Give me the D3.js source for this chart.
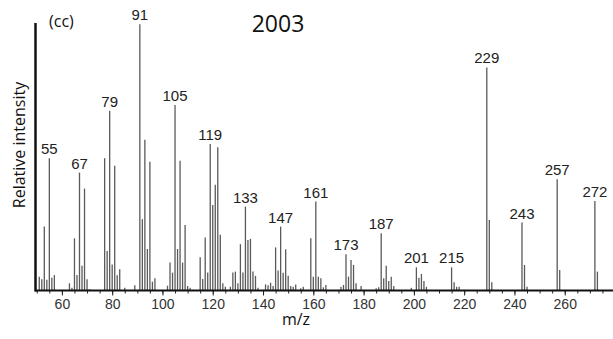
<!DOCTYPE html>
<html>
<head>
<meta charset="utf-8">
<script src="https://cdn.jsdelivr.net/npm/d3@7"></script>
<style>
  html, body { margin: 0; padding: 0; background: #fff; }
  svg { display: block; }
</style>
</head>
<body>
<svg id="chart" width="613" height="339"></svg>
<script>
// m/z of every peak and its intensity, relative to the base peak (91 = 100)
const mzValues = [
  51, 52, 53, 54, 55, 56, 57,
  63, 64, 65, 66, 67, 68, 69, 70, 71,
  77, 78, 79, 80, 81, 82, 83, 85, 89,
  91, 92, 93, 94, 95, 96, 97,
  102, 103, 104, 105, 106, 107, 108, 109, 110, 111,
  115, 116, 117, 118, 119, 120, 121, 122, 123, 124, 125,
  127, 128, 129, 130, 131, 132, 133, 134, 135, 136, 137, 138,
  141, 142, 143, 144, 145, 146, 147, 148, 149, 150, 151, 152, 153, 155, 156,
  159, 160, 161, 162, 163, 164, 165,
  171, 172, 173, 174, 175, 176, 177, 179,
  185, 186, 187, 188, 189, 190, 191, 192,
  199, 201, 202, 203, 204, 205,
  215, 216, 217, 218,
  229, 230, 231,
  243, 244, 245,
  257, 258,
  272, 273
]
const intensities = [
  5.2, 4.2, 24, 4, 49.7, 4.8, 5.8,
  2.7, 1, 19.6, 5.8, 44.3, 9.3, 38.3, 4.2, 0.5,
  49.7, 14.8, 67.5, 9.8, 46.9, 5.7, 8, 1, 2,
  100, 26.8, 56.6, 15.6, 48.4, 3.3, 4.6,
  1.8, 10.5, 6.7, 69.7, 15.6, 48.7, 10.5, 24.6, 1.7, 1,
  12.5, 4.3, 19.9, 6.8, 55, 32.1, 39.7, 53.8, 20.9, 2.7, 1.4,
  1.4, 6.8, 7.1, 2.7, 17.4, 6.8, 31.5, 19, 19.4, 7.1, 5.5, 1,
  2.3, 2, 2.9, 1.7, 16.2, 7.5, 24, 6.7, 15.5, 5.5, 1.7, 1.4, 2.3, 0.8, 1.4,
  19.6, 5.2, 33.4, 5.2, 4.6, 1.2, 2.1,
  1.4, 2.1, 13.6, 5.2, 11.5, 9.6, 2.7, 1.7,
  0.8, 1.2, 21.5, 4.6, 9.3, 3.6, 5.2, 1.7,
  1, 8.7, 4.8, 6.2, 3.6, 1.4,
  8.7, 3.1, 1.4, 1.4,
  83.8, 26.5, 3.1,
  25.5, 9.6, 1.4,
  41.8, 7.7,
  33.6, 7.1
]
const labelledPeaks = [55, 67, 79, 91, 105, 119, 133, 147, 161, 173, 187, 201, 215, 229, 243, 257, 272]
const majorTicks = [60, 80, 100, 120, 140, 160, 180, 200, 220, 240, 260]
const minorTicks = d3.range(50, 280, 5)

const titleText = '2003'
const panelText = '(cc)'
const xTitle = 'm/z'
const yTitle = 'Relative intensity'

const peaks = mzValues.map((mz, i) => ({mz: mz, value: intensities[i]}))
const byMz = new Map(peaks.map(d => [d.mz, d.value]))

const svg = d3.select('#chart')
const baseY = 290.5

const x = d3.scaleLinear().domain([49.3, 279.2]).range([35, 613])
const y = d3.scaleLinear().domain([0, 100]).range([baseY, 24.3])

// peaks as sticks
svg.append('g')
  .selectAll('line')
  .data(peaks)
  .join('line')
  .attr('x1', d => x(d.mz))
  .attr('x2', d => x(d.mz))
  .attr('y1', y(0))
  .attr('y2', d => y(d.value))
  .attr('stroke', '#5a5a5a')
  .attr('stroke-width', 1.3)

// labels above the main peaks
svg.append('g')
  .selectAll('text')
  .data(labelledPeaks)
  .join('text')
  .attr('x', d => x(d))
  .attr('y', d => y(byMz.get(d)) - 4)
  .attr('text-anchor', 'middle')
  .attr('font-family', 'Liberation Sans, Arial, sans-serif')
  .attr('font-size', 15)
  .attr('fill', '#222')
  .text(d => d)

// x axis: minor ticks first, then labelled ones
svg.append('g')
  .attr('transform', `translate(0,${baseY})`)
  .call(d3.axisBottom(x).tickValues(minorTicks).tickSize(3).tickFormat(''))
  .call(g => g.select('.domain').remove())
  .call(g => g.selectAll('line').attr('stroke', '#222'))

svg.append('g')
  .attr('transform', `translate(0,${baseY})`)
  .call(d3.axisBottom(x).tickValues(majorTicks).tickSize(5).tickPadding(4).tickFormat(d3.format('d')))
  .call(g => g.select('.domain').remove())
  .call(g => g.selectAll('line').attr('stroke', '#222'))
  .call(g => g.selectAll('text')
    .attr('font-family', 'Liberation Sans, Arial, sans-serif')
    .attr('font-size', 14)
    .attr('fill', '#333'))

svg.append('line')
  .attr('x1', 35).attr('x2', 613)
  .attr('y1', baseY).attr('y2', baseY)
  .attr('stroke', '#111')
  .attr('stroke-width', 2)

// y axis line
svg.append('line')
  .attr('x1', 35.5).attr('x2', 35.5)
  .attr('y1', 23).attr('y2', baseY + 1)
  .attr('stroke', '#111')
  .attr('stroke-width', 2.5)

// titles
svg.append('text')
  .attr('x', 278).attr('y', 32)
  .attr('text-anchor', 'middle')
  .attr('font-family', 'Open Sans, sans-serif')
  .attr('font-size', 23)
  .attr('fill', '#111')
  .text(titleText)

svg.append('text')
  .attr('x', 49).attr('y', 27)
  .attr('font-family', 'Open Sans, sans-serif')
  .attr('font-size', 16)
  .attr('fill', '#111')
  .text(panelText)

svg.append('text')
  .attr('x', 296).attr('y', 325)
  .attr('text-anchor', 'middle')
  .attr('font-family', 'Open Sans, sans-serif')
  .attr('font-size', 16)
  .attr('fill', '#111')
  .text(xTitle)

svg.append('text')
  .attr('transform', 'translate(25,145) rotate(-90)')
  .attr('text-anchor', 'middle')
  .attr('font-family', 'Open Sans, sans-serif')
  .attr('font-size', 16)
  .attr('fill', '#111')
  .text(yTitle)
</script>
</body>
</html>
